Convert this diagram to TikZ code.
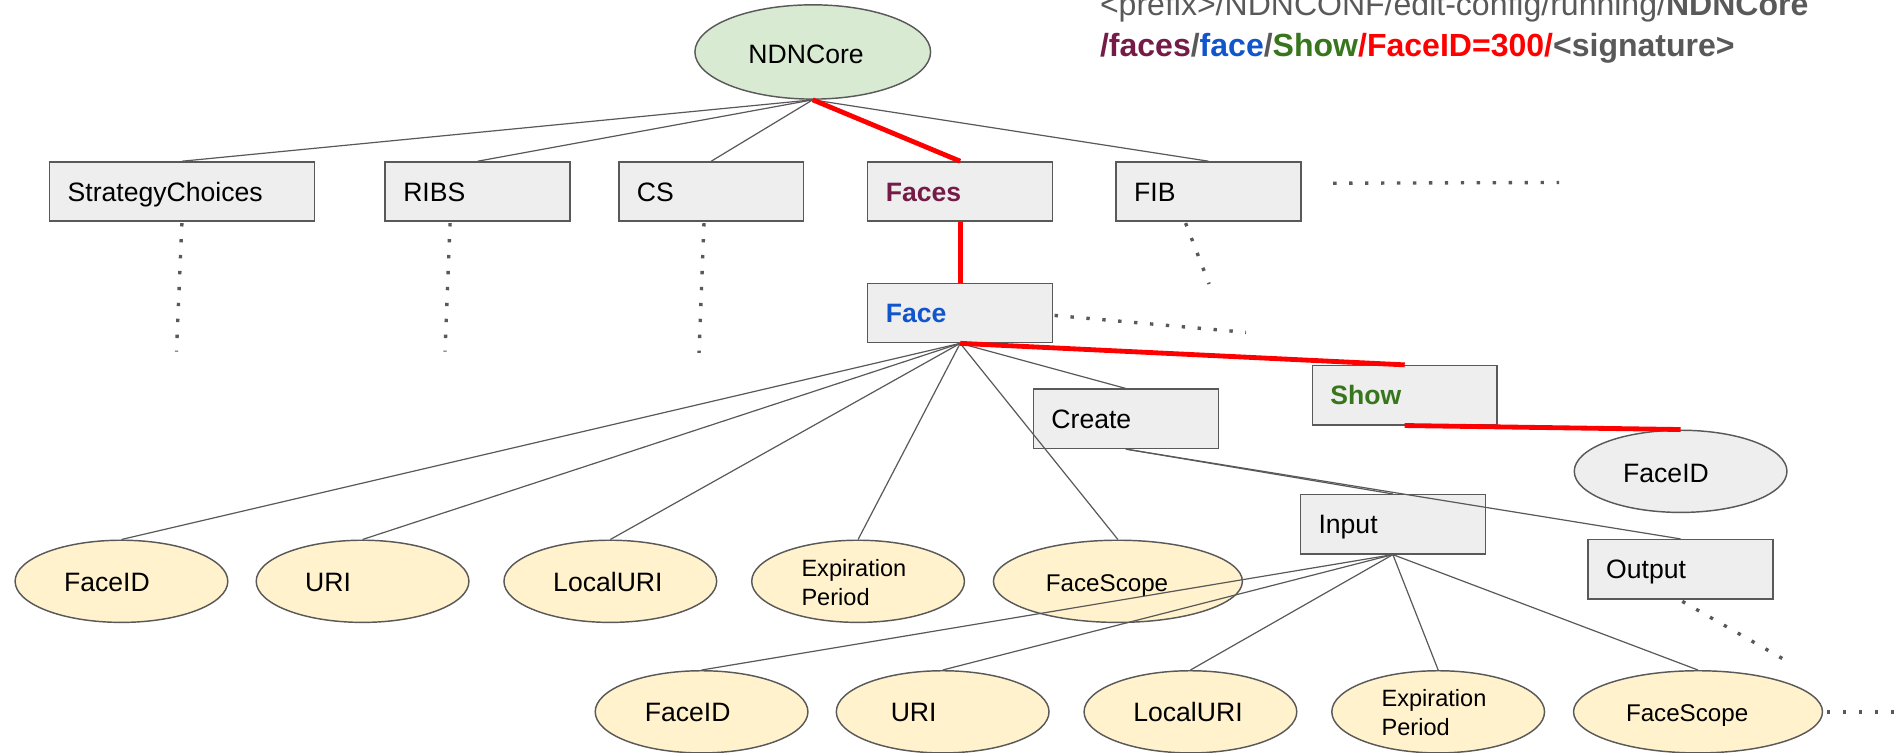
\documentclass[tikz,border=0pt]{standalone}
\usepackage{fontspec}
\setmainfont{Liberation Sans}
\usetikzlibrary{shapes.geometric,calc}

\definecolor{linegray}{HTML}{595959}
\definecolor{boxfill}{HTML}{EEEEEE}
\definecolor{rootfill}{HTML}{D9EAD3}
\definecolor{leaffill}{HTML}{FFF2CC}
\definecolor{facesc}{HTML}{741B47}
\definecolor{facec}{HTML}{1155CC}
\definecolor{showc}{HTML}{38761D}
\definecolor{pathred}{HTML}{FF0000}

\begin{document}
\begin{tikzpicture}[x=1pt,y=-1pt,
  conn/.style={draw=linegray, line width=1pt},
  hot/.style={draw=pathred, line width=4pt},
  dots/.style={draw=linegray, line width=2.8pt, dash pattern=on 2.8pt off 10.4pt},
  box/.style={rectangle, draw=linegray, line width=1.2pt, fill=boxfill,
    minimum height=49pt, inner xsep=15pt, inner ysep=0pt, align=left,
    text width=123pt, font=\fontsize{22}{26}\selectfont,
    text height=18pt, text depth=2.2pt},
  widebox/.style={box, text width=189pt},
  ell/.style={ellipse, draw=linegray, line width=1.2pt, inner sep=0pt,
    minimum width=176pt, minimum height=68pt},
  leaf/.style={ell, fill=leaffill},
  wideleaf/.style={leaf, minimum width=206pt},
  lbl/.style={inner sep=0pt, font=\fontsize{22}{26}\selectfont,
    text height=15.8pt, text depth=0pt},
  lblsm/.style={inner sep=0pt, font=\fontsize{20}{24}\selectfont,
    text height=14.3pt, text depth=0pt},
  twoline/.style={inner sep=0pt, anchor=west, align=left,
    font=\fontsize{19.5}{24}\selectfont},
  hdr/.style={inner sep=0pt, anchor=base west, text=linegray,
    font=\fontsize{26.5}{32}\selectfont},
]
\useasboundingbox (0,0) rectangle (1568,623);

% request name shown at the top right
\node[hdr] (hdrone) at (910,13) {<prefix>/NDNCONF/edit-config/running/\textbf{NDNCore}};
\node[hdr] (hdrtwo) at (910,47) {\bfseries\textcolor{facesc}{/faces}/\textcolor{facec}{face}/\textcolor{showc}{Show}\textcolor{pathred}{/FaceID=300/}<signature>};

% root
\node[ell, fill=rootfill, minimum width=195pt, minimum height=78pt] (root) at (672.5,43) {};
\node[lbl] (roott) at (667,44.4) {NDNCore};

% first level
\node[widebox] (sc)    at (150.5,158.5) {StrategyChoices};
\node[box]     (ribs)  at (395.2,158.5) {RIBS};
\node[box]     (cs)    at (588.5,158.5) {CS};
\node[box]     (faces) at (794.5,158.5) {\bfseries\textcolor{facesc}{Faces}};
\node[box]     (fib)   at (1000,158.5)  {FIB};

% second level
\node[box] (face)   at (794.5,259)   {\bfseries\textcolor{facec}{Face}};
\node[box] (show)   at (1162.3,327)  {\bfseries\textcolor{showc}{Show}};
\node[box] (create) at (931.5,346.5) {Create};
\node[box] (input)  at (1152.5,433.8) {Input};
\node[box] (output) at (1390.5,471)  {Output};

% identifier under Show
\node[ell, fill=boxfill] (sfid) at (1390.6,390) {};
\node[lbl] (sfidt) at (1378.5,391) {FaceID};

% face attributes
\node[leaf]     (fa) at (100.5,481) {};
\node[leaf]     (fb) at (300,481)   {};
\node[leaf]     (fc) at (505,481)   {};
\node[leaf]     (fd) at (710,481)   {};
\node[wideleaf] (fe) at (925,481)   {};
\node[lbl]    (fat) at (88.5,481.4) {FaceID};
\node[lbl]    (fbt) at (271.5,481.4) {URI};
\node[lbl]    (fct) at (503,481.4)  {LocalURI};
\node[twoline] (fdt) at (663,482)   {Expiration\\Period};
\node[lblsm]  (fet) at (916,482.5)  {FaceScope};

% input attributes
\node[leaf]     (ia) at (580.5,589) {};
\node[leaf]     (ib) at (780,589)   {};
\node[leaf]     (ic) at (985,589)   {};
\node[leaf]     (id) at (1190,589)  {};
\node[wideleaf] (ie) at (1405,589)  {};
\node[lbl]    (iat) at (569,589.4)  {FaceID};
\node[lbl]    (ibt) at (756,589.4)  {URI};
\node[lbl]    (ict) at (983,589.4)  {LocalURI};
\node[twoline] (idt) at (1143,590)  {Expiration\\Period};
\node[lblsm]  (iet) at (1396,590)   {FaceScope};

% tree edges
\draw[conn] (root.south) -- (sc.north);
\draw[conn] (root.south) -- (ribs.north);
\draw[conn] (root.south) -- (cs.north);
\draw[conn] (root.south) -- (fib.north);

\draw[conn] (face.south) -- (fa.north);
\draw[conn] (face.south) -- (fb.north);
\draw[conn] (face.south) -- (fc.north);
\draw[conn] (face.south) -- (fd.north);
\draw[conn] (face.south) -- (fe.north);
\draw[conn] (face.south) -- (create.north);

\draw[conn] (create.south) -- (input.north);
\draw[conn] (create.south) -- (output.north);

\draw[conn] (input.south) -- (ia.north);
\draw[conn] (input.south) -- (ib.north);
\draw[conn] (input.south) -- (ic.north);
\draw[conn] (input.south) -- (id.north);
\draw[conn] (input.south) -- (ie.north);

% highlighted request path
\draw[hot] (root.south) -- (faces.north);
\draw[hot] (faces.south) -- (face.north);
\draw[hot] (face.south) -- (show.north);
\draw[hot] (show.south) -- (sfid.north);

% elided branches
\coordinate (scend)   at (146,291);
\coordinate (ribsend) at (368.2,291);
\coordinate (csend)   at (578.4,292);
\coordinate (fibend)  at (1000.5,235);
\coordinate (fibside) at (1290,151);
\coordinate (faceend) at (1031,275);
\coordinate (outend)  at (1475,545);
\coordinate (ieend)   at (1568,589);
\draw[dots] ($(sc.south)+(0,1)$) -- (scend);
\draw[dots] ($(ribs.south)+(-22.8,1)$) -- (ribsend);
\draw[dots] ($(cs.south)+(-6,1)$) -- (csend);
\draw[dots] ($(fib.south)+(-19,1)$) -- (fibend);
\draw[dots] ($(fib.east)+(26,-6.9)$) -- (fibside);
\draw[dots] ($(face.east)+(1,2)$) -- (faceend);
\draw[dots] ($(output.south)+(1.5,1.5)$) -- (outend);
\draw[dots] ($(ie.east)+(3,0)$) -- (ieend);
\end{tikzpicture}
\end{document}
